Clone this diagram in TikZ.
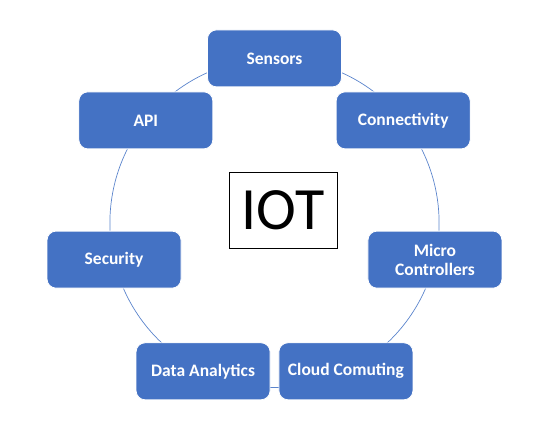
\documentclass[tikz,border=0pt]{standalone}
\usepackage{fontspec}
\setmainfont{Carlito}
\usetikzlibrary{calc}
\definecolor{boxblue}{HTML}{4472C4}
\definecolor{ringblue}{HTML}{5B84CC}
\begin{document}
\begin{tikzpicture}[x=1pt,y=-1pt,
  item/.style={fill=boxblue, draw=white, line width=0.8pt, rounded corners=9pt,
    minimum width=134pt, minimum height=57pt, text=white, align=center,
    font=\fontsize{17.5}{19}\selectfont\bfseries, inner sep=2pt},
  core/.style={draw=black, line width=0.8pt, fill=white, minimum width=108pt,
    minimum height=76pt, font=\fontsize{60}{60}\selectfont, inner sep=0pt}]
\useasboundingbox (0,0) rectangle (547,435);
\coordinate (c) at (274.5,223);
\draw[ringblue, line width=0.7pt] (c) circle[radius=164.6];
\node[item] (sensors) at ($(c)+(-90:164.6)$) {Sensors};
\node[item] (conn) at ($(c)+(-38.571:164.6)$) {Connectivity};
\node[item] (micro) at ($(c)+(12.857:164.6)$) {Micro\\Controllers};
\node[item] (cloud) at ($(c)+(64.286:164.6)$) {Cloud Comuting};
\node[item] (data) at ($(c)+(115.714:164.6)$) {Data Analytics};
\node[item] (sec) at ($(c)+(167.143:164.6)$) {Security};
\node[item] (api) at ($(c)+(218.571:164.6)$) {API};
\node[core] (iot) at (283,210) {IOT};
\end{tikzpicture}
\end{document}
